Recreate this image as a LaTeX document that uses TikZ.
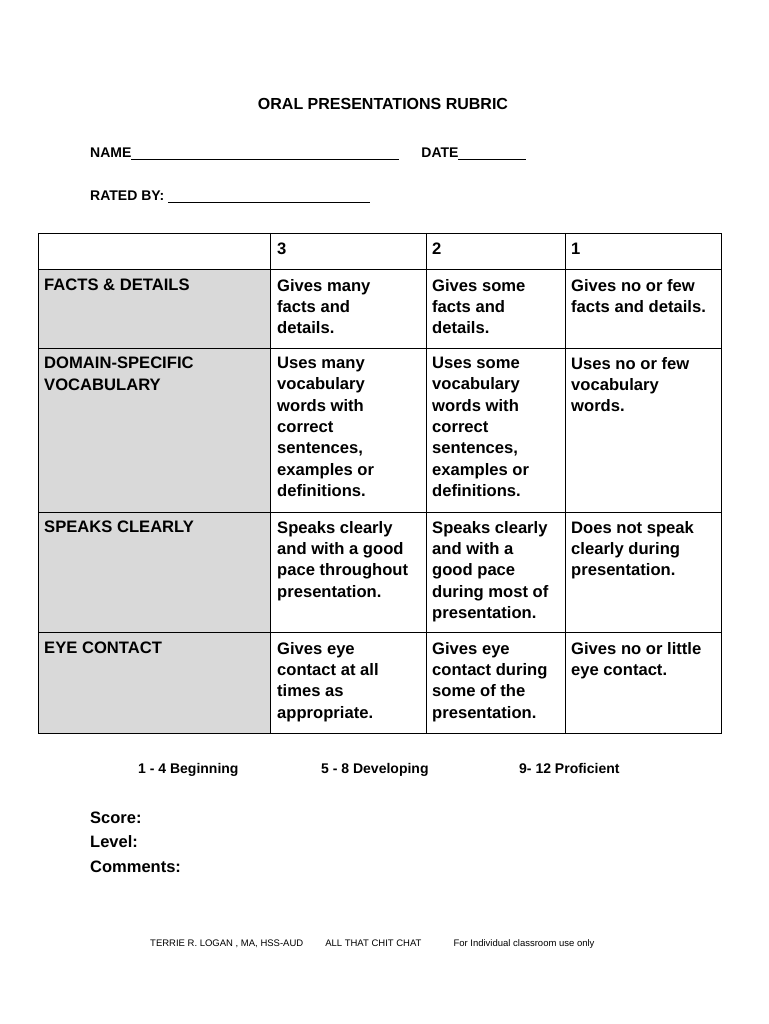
\documentclass[tikz,border=0pt]{standalone}
\usepackage{fontspec}
\setmainfont{Liberation Sans}
\usetikzlibrary{positioning}
\tikzstyle{cell} = [anchor=north west, align=left, font=\fontsize{16.6}{21.3}\selectfont\bfseries, inner sep=0pt]
\tikzstyle{line} = [anchor=base west, font=\fontsize{14}{17}\selectfont\bfseries, inner sep=0pt]
\begin{document}
\begin{tikzpicture}[x=1pt, y=-1pt]
\useasboundingbox (0,0) rectangle (768,1024);
\fill[gray!30] (38,269) rectangle (270,733);
\draw[thick] (38,233) rectangle (721,733);
\foreach \y in {269,348,512,632} \draw (38,\y) -- (721,\y);
\foreach \x in {270,426,565} \draw (\x,233) -- (\x,733);
\node (title) [font=\fontsize{16}{19}\selectfont\bfseries] at (383,104) {ORAL PRESENTATIONS RUBRIC};
\node (name) [line] at (90,158) {NAME\underline{\hspace{268pt}}\hspace{22pt}DATE\underline{\hspace{68pt}}};
\node (rated) [line] at (90,201) {RATED BY: \underline{\hspace{202pt}}};
% header row
\node (h3) [cell] at (277,243) {3};
\node (h2) [cell] at (432,243) {2};
\node (h1) [cell] at (571,243) {1};
% facts
\node (c1) [cell] at (44,279) {FACTS \& DETAILS};
\node (f3) [cell] at (277,279) {Gives many\\facts and\\details.};
\node (f2) [cell] at (432,279) {Gives some\\facts and\\details.};
\node (f1) [cell] at (571,279) {Gives no or few\\facts and details.};
% vocabulary
\node (c2) [cell] at (44,357) {DOMAIN-SPECIFIC\\VOCABULARY};
\node (v3) [cell] at (277,357) {Uses many\\vocabulary\\words with\\correct\\sentences,\\examples or\\definitions.};
\node (v2) [cell] at (432,357) {Uses some\\vocabulary\\words with\\correct\\sentences,\\examples or\\definitions.};
\node (v1) [cell] at (571,357) {Uses no or few\\vocabulary\\words.};
% speaks
\node (c3) [cell] at (44,521) {SPEAKS CLEARLY};
\node (s3) [cell] at (277,521) {Speaks clearly\\and with a good\\pace throughout\\presentation.};
\node (s2) [cell] at (432,521) {Speaks clearly\\and with a\\good pace\\during most of\\presentation.};
\node (s1) [cell] at (571,521) {Does not speak\\clearly during\\presentation.};
% eye contact
\node (c4) [cell] at (44,642) {EYE CONTACT};
\node (e3) [cell] at (277,642) {Gives eye\\contact at all\\times as\\appropriate.};
\node (e2) [cell] at (432,642) {Gives eye\\contact during\\some of the\\presentation.};
\node (e1) [cell] at (571,642) {Gives no or little\\eye contact.};
% levels
\node (l1) [line] at (138,773) {1 - 4 Beginning};
\node (l2) [line] at (321,773) {5 - 8 Developing};
\node (l3) [line] at (519,773) {9- 12 Proficient};
\node (score) [line, font=\fontsize{16.5}{19}\selectfont\bfseries] at (90,823) {Score:};
\node (level) [line, font=\fontsize{16.5}{19}\selectfont\bfseries] at (90,847) {Level:};
\node (comm) [line, font=\fontsize{16.5}{19}\selectfont\bfseries] at (90,872) {Comments:};
\node (foot) [line, font=\fontsize{9.5}{11}\selectfont] at (150,946) {TERRIE R. LOGAN , MA, HSS-AUD\hspace{22pt}ALL THAT CHIT CHAT\hspace{32pt}For Individual classroom use only};
\end{tikzpicture}
\end{document}
